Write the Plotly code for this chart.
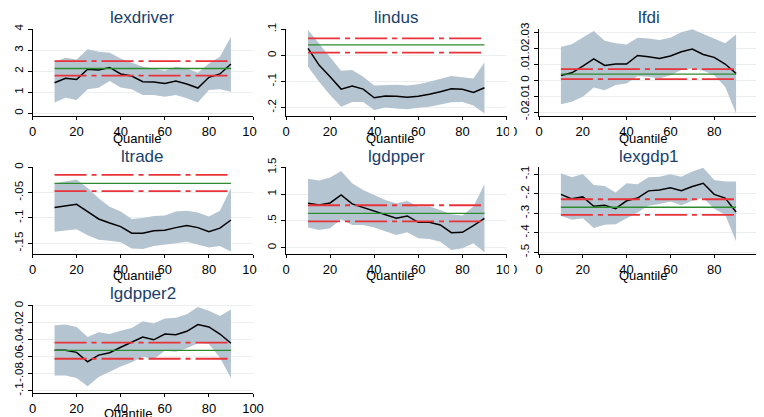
import plotly.graph_objects as go

quantiles = [10, 15, 20, 25, 30, 35, 40, 45, 50, 55, 60, 65, 70, 75, 80, 85, 90]

titles = ["lexdriver", "lindus", "lfdi", "ltrade", "lgdpper", "lexgdp1", "lgdpper2"]

# quantile estimates
est_lexdriver = [1.45, 1.66, 1.61, 2.09, 2.06, 2.18, 1.87, 1.77, 1.50, 1.49, 1.42, 1.53, 1.39, 1.20, 1.71, 1.87, 2.34]
est_lindus = [0.027, -0.037, -0.082, -0.129, -0.117, -0.129, -0.162, -0.155, -0.156, -0.160, -0.156, -0.149, -0.139, -0.128, -0.130, -0.142, -0.124]
est_lfdi = [0.0029, 0.0046, 0.0088, 0.0134, 0.0092, 0.0101, 0.0101, 0.0155, 0.0147, 0.0136, 0.0151, 0.0178, 0.0195, 0.0161, 0.0143, 0.0101, 0.0042]
est_ltrade = [-0.0796, -0.0763, -0.073, -0.0875, -0.102, -0.110, -0.117, -0.130, -0.130, -0.125, -0.124, -0.119, -0.115, -0.119, -0.127, -0.120, -0.104]
est_lgdpper = [0.828, 0.797, 0.834, 0.984, 0.816, 0.747, 0.685, 0.610, 0.548, 0.592, 0.473, 0.473, 0.423, 0.280, 0.286, 0.411, 0.548]
est_lexgdp1 = [-0.203, -0.226, -0.216, -0.264, -0.259, -0.276, -0.236, -0.222, -0.185, -0.180, -0.169, -0.184, -0.163, -0.146, -0.203, -0.222, -0.293]
est_lgdpper2 = [-0.0524, -0.0524, -0.0548, -0.0658, -0.058, -0.0552, -0.0488, -0.0428, -0.0368, -0.040, -0.0332, -0.034, -0.030, -0.022, -0.0248, -0.0332, -0.044]

# upper confidence bounds
hi_lexdriver = [2.45, 2.64, 2.56, 3.04, 2.92, 2.88, 2.61, 2.40, 2.21, 2.13, 2.02, 2.21, 2.13, 1.93, 2.37, 2.69, 3.64]
hi_lindus = [0.097, 0.046, -0.005, -0.059, -0.056, -0.082, -0.115, -0.114, -0.112, -0.115, -0.110, -0.101, -0.091, -0.079, -0.084, -0.088, -0.027]
hi_lfdi = [0.021, 0.0225, 0.0268, 0.0308, 0.0247, 0.0231, 0.0224, 0.0266, 0.0262, 0.0252, 0.0266, 0.030, 0.0319, 0.029, 0.0258, 0.0231, 0.0287]
hi_ltrade = [-0.0316, -0.028, -0.024, -0.041, -0.061, -0.078, -0.0875, -0.102, -0.100, -0.096, -0.095, -0.0875, -0.086, -0.089, -0.097, -0.086, -0.041]
hi_lgdpper = [1.283, 1.252, 1.308, 1.432, 1.20, 1.077, 0.984, 0.890, 0.828, 0.872, 0.766, 0.766, 0.704, 0.623, 0.598, 0.766, 1.183]
hi_lexgdp1 = [-0.095, -0.115, -0.099, -0.155, -0.160, -0.193, -0.146, -0.151, -0.115, -0.112, -0.100, -0.112, -0.086, -0.066, -0.129, -0.137, -0.137]
hi_lgdpper2 = [-0.0228, -0.022, -0.0248, -0.0368, -0.0312, -0.0332, -0.0292, -0.026, -0.018, -0.0208, -0.0149, -0.0141, -0.0098, -0.0012, -0.0059, -0.0118, -0.0043]

# lower confidence bounds
lo_lexdriver = [0.51, 0.74, 0.63, 1.14, 1.22, 1.53, 1.23, 1.14, 0.87, 0.87, 0.79, 0.87, 0.71, 0.51, 1.11, 1.14, 1.03]
lo_lindus = [-0.043, -0.101, -0.152, -0.197, -0.178, -0.178, -0.209, -0.199, -0.203, -0.206, -0.200, -0.197, -0.188, -0.179, -0.178, -0.192, -0.222]
lo_lfdi = [-0.0151, -0.0136, -0.0105, -0.0046, -0.0063, -0.0031, -0.0021, 0.0025, 0.0021, 0.0010, 0.0031, 0.0063, 0.0073, 0.0059, 0.0031, -0.0042, -0.021]
lo_ltrade = [-0.127, -0.124, -0.122, -0.134, -0.143, -0.145, -0.148, -0.160, -0.161, -0.155, -0.153, -0.150, -0.147, -0.153, -0.158, -0.155, -0.166]
lo_lgdpper = [0.374, 0.330, 0.361, 0.529, 0.423, 0.423, 0.374, 0.299, 0.237, 0.286, 0.174, 0.162, 0.112, -0.044, -0.012, 0.081, -0.087]
lo_lexgdp1 = [-0.313, -0.333, -0.325, -0.376, -0.359, -0.356, -0.325, -0.296, -0.261, -0.253, -0.239, -0.259, -0.236, -0.222, -0.277, -0.308, -0.444]
lo_lgdpper2 = [-0.0819, -0.0819, -0.085, -0.0946, -0.0838, -0.0773, -0.0715, -0.0665, -0.060, -0.063, -0.0528, -0.054, -0.050, -0.044, -0.045, -0.061, -0.085]

# OLS estimate and its confidence interval
ols_est = [2.13, 0.040, 0.0038, -0.032, 0.641, -0.269, -0.0524]
ols_hi = [2.48, 0.065, 0.0069, -0.015, 0.791, -0.228, -0.0432]
ols_lo = [1.79, 0.011, 0.0006, -0.047, 0.492, -0.308, -0.0623]

# y-axis ticks
yticks = [
    [0, 1, 2, 3, 4],
    [-0.2, -0.1, 0, 0.1],
    [-0.02, -0.01, 0, 0.01, 0.02, 0.03],
    [-0.15, -0.1, -0.05, 0],
    [0, 0.5, 1, 1.5],
    [-0.5, -0.4, -0.3, -0.2, -0.1],
    [-0.1, -0.08, -0.06, -0.04, -0.02, 0],
]
ytick_labels = [
    ["0", "1", "2", "3", "4"],
    ["-.2", "-.1", "0", ".1"],
    ["-.02", "-.01", "0", ".01", ".02", ".03"],
    ["-.15", "-.1", "-.05", "0"],
    ["0", ".5", "1", "1.5"],
    ["-.5", "-.4", "-.3", "-.2", "-.1"],
    ["-.1", "-.08", "-.06", "-.04", "-.02", "0"],
]
xticks = [0, 20, 40, 60, 80, 100]

est = [est_lexdriver, est_lindus, est_lfdi, est_ltrade, est_lgdpper, est_lexgdp1, est_lgdpper2]
hi = [hi_lexdriver, hi_lindus, hi_lfdi, hi_ltrade, hi_lgdpper, hi_lexgdp1, hi_lgdpper2]
lo = [lo_lexdriver, lo_lindus, lo_lfdi, lo_ltrade, lo_lgdpper, lo_lexgdp1, lo_lgdpper2]

# layout geometry (window pixels); the page body has an 8px margin
OFF = 8
W, H = 764 - OFF, 417 - OFF
col_px = [(32.5, 253), (286, 506.5), (539, 758)]
row_px = [(28.5, 116), (166.7, 254), (304.5, 393.3)]
title_y = [17, 156, 293]
qlab_y = [138, 275.5, 413]
qlab_dx = [-6, -6, -15]
yranges = [
    [-0.128, 4.03],
    [-0.232, 0.103],
    [-0.0225, 0.0324],
    [-0.171, 0.001],
    [-0.118, 1.51],
    [-0.509, -0.061],
    [-0.103, 0.0016],
]


def px_x(px):
    return (px - OFF) / W


def px_y(py):
    return 1 - (py - OFF) / H


BAND = "#B5C4D1"
RED = "#E8333B"
GREEN = "#2E8B2E"
NAVY = "#1A3F6B"
FONT = "Liberation Sans, Arial, sans-serif"
DASH = "32px,5px,5px,5px"

fig = go.Figure()
annotations = []
layout = {}

for i in range(7):
    r, c = divmod(i, 3)
    ax = "" if i == 0 else str(i + 1)
    xa, ya = "x" + ax, "y" + ax
    # confidence band
    fig.add_trace(go.Scatter(x=quantiles, y=lo[i], mode="lines", line=dict(width=0, color=BAND),
                             xaxis=xa, yaxis=ya, hoverinfo="skip"))
    fig.add_trace(go.Scatter(x=quantiles, y=hi[i], mode="lines", line=dict(width=0, color=BAND),
                             fill="tonexty", fillcolor=BAND, xaxis=xa, yaxis=ya, hoverinfo="skip"))
    # quantile estimate
    fig.add_trace(go.Scatter(x=quantiles, y=est[i], mode="lines", line=dict(width=1.5, color="black"),
                             xaxis=xa, yaxis=ya))
    # OLS lines
    qx = [quantiles[0], quantiles[-1]]
    fig.add_trace(go.Scatter(x=qx, y=[ols_est[i]] * 2, mode="lines", line=dict(width=1.3, color=GREEN),
                             xaxis=xa, yaxis=ya))
    fig.add_trace(go.Scatter(x=qx, y=[ols_hi[i]] * 2, mode="lines", line=dict(width=1.8, color=RED, dash=DASH),
                             xaxis=xa, yaxis=ya))
    fig.add_trace(go.Scatter(x=qx, y=[ols_lo[i]] * 2, mode="lines", line=dict(width=1.8, color=RED, dash=DASH),
                             xaxis=xa, yaxis=ya))

    x0, x1 = col_px[c]
    t0, b0 = row_px[r]
    layout["xaxis" + ax] = dict(
        domain=[px_x(x0), px_x(x1)], anchor=ya, range=[0, 100], tickvals=xticks,
        showline=True, linecolor="black", linewidth=1, ticks="outside", ticklen=3,
        tickcolor="black", tickfont=dict(size=13, color="black", family=FONT),
        showgrid=False, zeroline=False, fixedrange=True, automargin=False,
    )
    layout["yaxis" + ax] = dict(
        domain=[px_y(b0), px_y(t0)], anchor=xa, range=yranges[i],
        tickvals=yticks[i], ticktext=ytick_labels[i], tickangle=-90,
        showline=True, linecolor="black", linewidth=1, ticks="outside", ticklen=4,
        tickcolor="black", tickfont=dict(size=11.5, color="black", family=FONT),
        showgrid=True, gridcolor="#ECEFEF", gridwidth=1, zeroline=False, fixedrange=True,
        automargin=False,
    )
    annotations.append(dict(text=titles[i], x=px_x((x0 + x1) / 2), y=px_y(title_y[r]),
                            xref="paper", yref="paper", showarrow=False,
                            font=dict(size=17, color=NAVY, family=FONT), xanchor="center", yanchor="middle"))
    annotations.append(dict(text="Quantile", x=px_x((x0 + x1) / 2 + qlab_dx[r]), y=px_y(qlab_y[r]),
                            xref="paper", yref="paper", showarrow=False,
                            font=dict(size=13, color="black", family=FONT), xanchor="center", yanchor="middle"))

# white strips where the neighbouring panel covers the clipped "100" labels
shapes = []
for (yy0, yy1) in [(118, 136), (256, 274)]:
    for (xx0, xx1) in [(257, 265), (509, 514)]:
        shapes.append(dict(type="rect", xref="paper", yref="paper", layer="above",
                           x0=px_x(xx0), x1=px_x(xx1), y0=px_y(yy1), y1=px_y(yy0),
                           fillcolor="white", line=dict(width=0)))

fig.update_layout(
    width=W, height=H, margin=dict(l=0, r=0, t=0, b=0, autoexpand=False),
    paper_bgcolor="white", plot_bgcolor="white", showlegend=False,
    annotations=annotations, shapes=shapes, **layout,
)

fig.write_html("out.html")
